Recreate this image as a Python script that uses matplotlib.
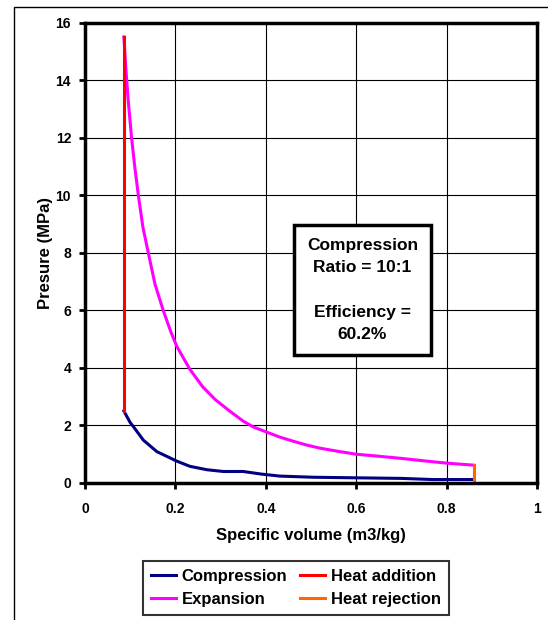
import numpy as np
import matplotlib.pyplot as plt
from matplotlib.patches import Rectangle

plt.rcParams['font.family'] = ['Liberation Sans', 'DejaVu Sans']
plt.rcParams['font.weight'] = 'bold'

# Otto cycle data
v_comp = [0.086, 0.1, 0.107, 0.129, 0.159, 0.203, 0.232, 0.27, 0.306, 0.35, 0.39,
          0.431, 0.505, 0.6, 0.7, 0.77, 0.86]
p_comp = [2.5, 2.1, 1.96, 1.49, 1.09, 0.76, 0.58, 0.46, 0.4, 0.4, 0.31,
          0.24, 0.2, 0.18, 0.16, 0.12, 0.12]

v_exp = [0.086, 0.09, 0.095, 0.103, 0.11, 0.118, 0.128, 0.14, 0.155, 0.173,
         0.19, 0.203, 0.232, 0.26, 0.288, 0.32, 0.35, 0.372, 0.40, 0.43,
         0.461, 0.49, 0.52, 0.56, 0.6, 0.65, 0.697, 0.75, 0.8, 0.86]
p_exp = [15.5, 14.5, 13.4, 12.0, 11.0, 10.0, 8.9, 8.0, 6.9, 6.0,
         5.25, 4.75, 3.95, 3.35, 2.9, 2.5, 2.15, 1.95, 1.78, 1.6,
         1.45, 1.32, 1.21, 1.1, 1.0, 0.93, 0.86, 0.77, 0.69, 0.62]

v_add = [0.086, 0.086]
p_add = [2.5, 15.5]

v_rej = [0.86, 0.86]
p_rej = [0.12, 0.62]

fig = plt.figure(figsize=(5.48, 6.2), dpi=100)
fig.patches.append(Rectangle((14 / 548, -0.1), 1.2, 1 - 7 / 620 + 0.1,
                             transform=fig.transFigure, fill=False,
                             edgecolor='black', linewidth=1.0))
ax = fig.add_axes([85 / 548, 1 - 483 / 620, 452 / 548, 460.5 / 620])

ax.plot(v_comp, p_comp, color='#000080', lw=2.2, label='Compression')
ax.plot(v_exp, p_exp, color='#FF00FF', lw=2.2, label='Expansion')
ax.plot(v_add, p_add, color='#FF0000', lw=2.2, label='Heat addition')
ax.plot(v_rej, p_rej, color='#FF6600', lw=2.2, label='Heat rejection')

ax.set_xlim(0, 1)
ax.set_ylim(0, 16)
ax.set_xticks(np.arange(0, 1.01, 0.2))
ax.set_xticklabels(['0', '0.2', '0.4', '0.6', '0.8', '1'])
ax.set_yticks(np.arange(0, 17, 2))
ax.grid(True, color='black', lw=0.8)
ax.tick_params(labelsize=10, length=4, width=2, direction='out')
ax.tick_params(axis='x', pad=10)
ax.tick_params(axis='y', pad=6)
for s in ax.spines.values():
    s.set_linewidth(2.5)

ax.set_xlabel('Specific volume (m3/kg)', fontsize=12, fontweight='bold', labelpad=8)
ax.set_ylabel('Presure (MPa)', fontsize=12, fontweight='bold', labelpad=2)

ax.text(0.614, 6.7, 'Compression\nRatio = 10:1\n\nEfficiency =\n60.2%',
        ha='center', va='center', fontsize=12.5, fontweight='bold', linespacing=1.6,
        bbox=dict(boxstyle='square,pad=0.75', facecolor='white',
                  edgecolor='black', linewidth=2.5))

leg = fig.legend(ncol=2, loc='center', bbox_to_anchor=(296 / 548, 1 - 588 / 620),
                 fontsize=12, frameon=True, fancybox=False, edgecolor='black',
                 handlelength=1.5, handletextpad=0.35, columnspacing=0.8,
                 borderpad=0.45, labelspacing=0.5)
leg.get_frame().set_linewidth(1.5)

fig.savefig('out.png', dpi=100)
